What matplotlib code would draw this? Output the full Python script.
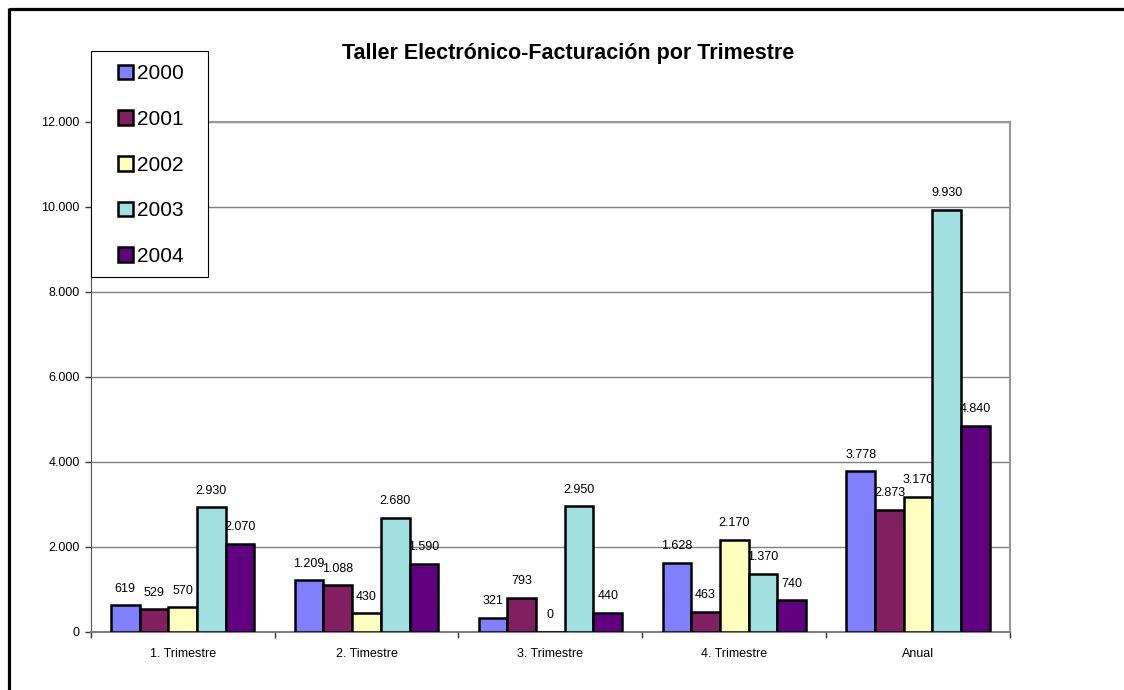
import matplotlib
matplotlib.use("Agg")
import matplotlib.pyplot as plt
import numpy as np
from matplotlib.patches import Rectangle
from matplotlib.lines import Line2D

plt.rcParams['font.family'] = ['Liberation Sans', 'DejaVu Sans']

categories = ["1. Trimestre", "2. Timestre", "3. Trimestre", "4. Trimestre", "Anual"]
years = ["2000", "2001", "2002", "2003", "2004"]
v2000 = [619, 1209, 321, 1628, 3778]
v2001 = [529, 1088, 793, 463, 2873]
v2002 = [570, 430, 0, 2170, 3170]
v2003 = [2930, 2680, 2950, 1370, 9930]
v2004 = [2070, 1590, 440, 740, 4840]
series = [v2000, v2001, v2002, v2003, v2004]
colors = ["#8080FF", "#802060", "#FFFFC0", "#A0E0E0", "#600080"]

W, H = 1124, 690
fig = plt.figure(figsize=(W / 100, H / 100), dpi=100)

# plot area in pixels: x 90.7..1010, y 122..631.7
ax = fig.add_axes([90.7 / W, (H - 631.7) / H, (1010 - 90.7) / W, (631.7 - 122) / H])

def fmt(v):
    return f"{v:,}".replace(",", ".")

x = np.arange(len(categories))
bw = 0.156
handles = []
for i, (vals, c, yr) in enumerate(zip(series, colors, years)):
    pos = x + (i - 2) * bw
    bars = ax.bar(pos, vals, bw, color=c, edgecolor="black", linewidth=1.8, zorder=3)
    handles.append(bars)
    for p, v in zip(pos, vals):
        ax.annotate(fmt(v), xy=(p, v), xytext=(0, 12), textcoords="offset points",
                    ha="center", va="center", fontsize=9, zorder=4)

ax.set_xlim(-0.5, len(categories) - 0.5)
ax.set_ylim(0, 12000)
ax.set_yticks(np.arange(0, 12001, 2000))
ax.set_yticklabels([fmt(t) for t in range(0, 12001, 2000)], fontsize=9)
ax.yaxis.grid(True, color="#808080", linewidth=1.0, zorder=0)
ax.set_axisbelow(True)

ax.set_xticks(x)
ax.set_xticklabels(categories, fontsize=9)
ax.set_xticks(np.arange(-0.5, len(categories) + 0.5, 1), minor=True)
ax.tick_params(axis="x", which="major", length=0, pad=12)
ax.tick_params(axis="x", which="minor", length=4, color="#333333", width=1)
ax.tick_params(axis="y", length=4, width=1, color="#333333", pad=4)

for s in ["top", "right"]:
    ax.spines[s].set_color("#999999")
    ax.spines[s].set_linewidth(1.5)
ax.spines["left"].set_color("#555555")
ax.spines["bottom"].set_color("#808080")
ax.spines["bottom"].set_linewidth(1.5)

fig.text(568 / W, 1 - 54 / H, "Taller Electrónico-Facturación por Trimestre",
         ha="center", va="center", fontsize=15.5, fontweight="bold")

# legend box
fig.patches.append(Rectangle((91 / W, 1 - 277 / H), (208 - 91) / W, (277 - 51) / H,
                             transform=fig.transFigure, facecolor="white",
                             edgecolor="black", linewidth=0.8, zorder=2))
fig.legend(handles, years, loc="upper left", bbox_to_anchor=(114 / W, 1 - 60 / H),
           frameon=False, fontsize=15, handlelength=0.7, handleheight=0.7,
           handletextpad=0.2, labelspacing=1.28, borderpad=0.2, borderaxespad=0)

# outer chart border (top and left visible)
fig.add_artist(Line2D([8.5 / W, 1.0], [1 - 8.5 / H, 1 - 8.5 / H], transform=fig.transFigure,
                      color="black", linewidth=2.3, solid_capstyle="butt"))
fig.add_artist(Line2D([8.5 / W, 8.5 / W], [1 - 7.5 / H, 0.0], transform=fig.transFigure,
                      color="black", linewidth=2.3, solid_capstyle="butt"))

fig.savefig("out.png", dpi=100)
